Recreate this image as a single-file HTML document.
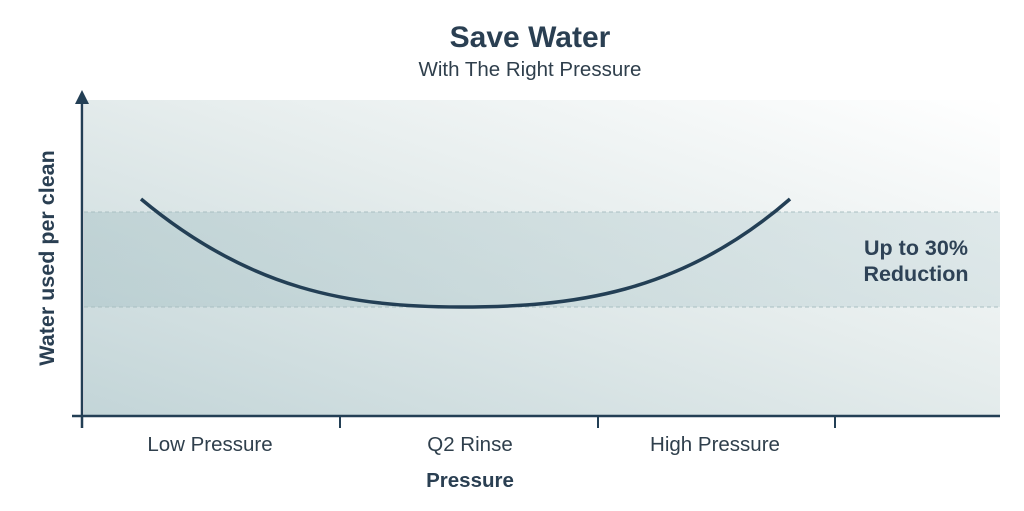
<!DOCTYPE html>
<html><head><style>
body{margin:0;background:#fff;}
svg{display:block;font-family:"Liberation Sans",sans-serif;}
</style></head><body>
<svg width="1024" height="511" viewBox="0 0 1024 511">
<defs>
<linearGradient id="g" x1="0" y1="1" x2="1" y2="0">
<stop offset="0" stop-color="#c3d5d8"/>
<stop offset="0.55" stop-color="#e6eded"/>
<stop offset="1" stop-color="#ffffff"/>
</linearGradient>
<linearGradient id="b" x1="0" y1="0" x2="1" y2="0">
<stop offset="0" stop-color="#a5c0c4" stop-opacity="0.45"/>
<stop offset="1" stop-color="#c4d6d9" stop-opacity="0.45"/>
</linearGradient>
</defs>
<rect x="84" y="100" width="916" height="315" fill="url(#g)"/>
<rect x="84" y="212" width="916" height="95" fill="url(#b)"/>
<line x1="84" y1="212" x2="1000" y2="212" stroke="#a9bfc2" stroke-dasharray="4,3"/>
<line x1="84" y1="307" x2="1000" y2="307" stroke="#a9bfc2" stroke-dasharray="4,3"/>
<path d="M141,199 C250,290 350,307 460,307 C570,307 680,295 790,199" fill="none" stroke="#233f55" stroke-width="3.5"/>
<line x1="82" y1="100" x2="82" y2="428" stroke="#233f55" stroke-width="2.5"/>
<polygon points="75,104 82,90 89,104" fill="#233f55"/>
<line x1="72" y1="416" x2="1000" y2="416" stroke="#233f55" stroke-width="2.5"/>
<line x1="340" y1="416" x2="340" y2="428" stroke="#233f55" stroke-width="2"/>
<line x1="598" y1="416" x2="598" y2="428" stroke="#233f55" stroke-width="2"/>
<line x1="835" y1="416" x2="835" y2="428" stroke="#233f55" stroke-width="2"/>
<text x="530" y="47" text-anchor="middle" font-size="30" font-weight="bold" fill="#2a3f52">Save Water</text>
<text x="530" y="76" text-anchor="middle" font-size="20.5" fill="#2f3f4c">With The Right Pressure</text>
<text x="916" y="255" text-anchor="middle" font-size="21.5" font-weight="bold" fill="#2e4256">Up to 30%</text>
<text x="916" y="281" text-anchor="middle" font-size="21.5" font-weight="bold" fill="#2e4256">Reduction</text>
<text x="210" y="451" text-anchor="middle" font-size="20.5" fill="#2f3f4c">Low Pressure</text>
<text x="470" y="451" text-anchor="middle" font-size="20.5" fill="#2f3f4c">Q2 Rinse</text>
<text x="715" y="451" text-anchor="middle" font-size="20.5" fill="#2f3f4c">High Pressure</text>
<text x="470" y="487" text-anchor="middle" font-size="20.5" font-weight="bold" fill="#2a3f52">Pressure</text>
<text transform="translate(54,258) rotate(-90)" text-anchor="middle" font-size="21.5" font-weight="bold" fill="#2a3f52">Water used per clean</text>
</svg>
</body></html>
